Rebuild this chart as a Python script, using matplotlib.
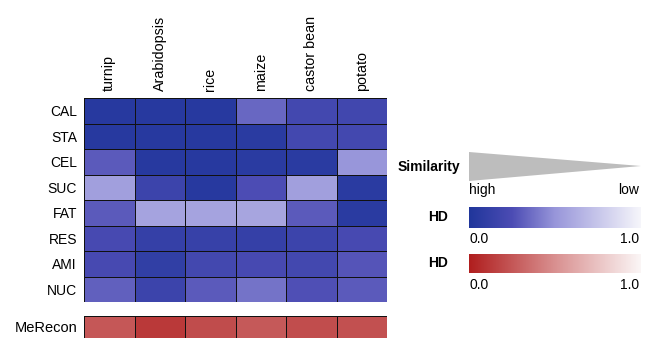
import numpy as np
import matplotlib.pyplot as plt
from matplotlib.colors import LinearSegmentedColormap
from matplotlib.patches import Polygon

plt.rcParams['font.family'] = ['Liberation Sans', 'DejaVu Sans']

species = ['turnip', 'Arabidopsis', 'rice', 'maize', 'castor bean', 'potato']
pathways = ['CAL', 'STA', 'CEL', 'SUC', 'FAT', 'RES', 'AMI', 'NUC']

# HD values (0 = high similarity, 1 = low)
hd = np.array([
    [0.04, 0.04, 0.04, 0.34, 0.20, 0.19],  # CAL
    [0.04, 0.04, 0.04, 0.06, 0.20, 0.20],  # STA
    [0.30, 0.04, 0.04, 0.06, 0.06, 0.50],  # CEL
    [0.55, 0.16, 0.04, 0.25, 0.55, 0.06],  # SUC
    [0.30, 0.57, 0.57, 0.58, 0.30, 0.06],  # FAT
    [0.22, 0.12, 0.13, 0.12, 0.16, 0.22],  # RES
    [0.22, 0.10, 0.20, 0.22, 0.20, 0.28],  # AMI
    [0.32, 0.16, 0.30, 0.38, 0.26, 0.30],  # NUC
])
merecon = np.array([0.25, 0.12, 0.20, 0.26, 0.21, 0.22])

blues = LinearSegmentedColormap.from_list(
    'hdblue', [(0.0, '#20369b'), (0.25, '#4c4cb4'), (0.5, '#9896da'), (1.0, '#f6f6fb')])
reds = LinearSegmentedColormap.from_list(
    'hdred', [(0.0, '#b01e1e'), (0.5, '#d99090'), (1.0, '#fbf6f6')])

W, H = 645, 339
fig = plt.figure(figsize=(W / 100, H / 100), dpi=100)

def px_axes(x0, y0, x1, y1):
    # pixel box (top-left origin) -> figure axes
    return fig.add_axes([x0 / W, 1 - y1 / H, (x1 - x0) / W, (y1 - y0) / H])

# main heatmap
ax = px_axes(84, 98, 387, 302)
ax.pcolormesh(hd, cmap=blues, vmin=0, vmax=1, edgecolors='#111111', linewidth=0.6)
ax.set_xlim(0, len(species))
ax.set_ylim(len(pathways), 0)
ax.xaxis.tick_top()
ax.set_xticks(np.arange(len(species)) + 0.5)
ax.set_xticklabels(species, rotation=90, fontsize=10.3)
ax.set_yticks(np.arange(len(pathways)) + 0.5)
ax.set_yticklabels(pathways, fontsize=10)
ax.tick_params(length=0, pad=5)
for s in ax.spines.values():
    s.set_visible(False)

# MeRecon row
ax2 = px_axes(84, 316, 387, 338)
ax2.pcolormesh(merecon.reshape(1, -1), cmap=reds, vmin=0, vmax=1,
               edgecolors='#111111', linewidth=0.6)
ax2.set_xlim(0, len(species))
ax2.set_ylim(1, 0)
ax2.set_xticks([])
ax2.set_yticks([0.5])
ax2.set_yticklabels(['MeRecon'], fontsize=10.5)
ax2.tick_params(length=0, pad=5)
for s in ax2.spines.values():
    s.set_visible(False)

# legend area in pixel coords
lg = px_axes(390, 0, 645, 339)
lg.axis('off')

lg.add_patch(Polygon([[469, 152], [469, 181], [641, 166]], closed=True,
                     facecolor='#bdbdbd', edgecolor='none'))
lg.text(460, 167, 'Similarity', ha='right', va='center', fontsize=10, fontweight='bold')
lg.text(469, 190, 'high', ha='left', va='center', fontsize=10)
lg.text(639, 190, 'low', ha='right', va='center', fontsize=10)

grad = np.linspace(0, 1, 256).reshape(1, -1)
lg.imshow(grad, cmap=blues, aspect='auto', extent=(469, 641, 228, 207))
lg.text(448, 217, 'HD', ha='right', va='center', fontsize=10, fontweight='bold')
lg.text(469, 239, '0.0', ha='left', va='center', fontsize=10)
lg.text(639, 239, '1.0', ha='right', va='center', fontsize=10)

lg.imshow(grad, cmap=reds, aspect='auto', extent=(469, 641, 273, 254))
lg.text(448, 263, 'HD', ha='right', va='center', fontsize=10, fontweight='bold')
lg.text(469, 285, '0.0', ha='left', va='center', fontsize=10)
lg.text(639, 285, '1.0', ha='right', va='center', fontsize=10)
lg.set_xlim(390, 645)
lg.set_ylim(339, 0)

fig.savefig('out.png', dpi=100)
